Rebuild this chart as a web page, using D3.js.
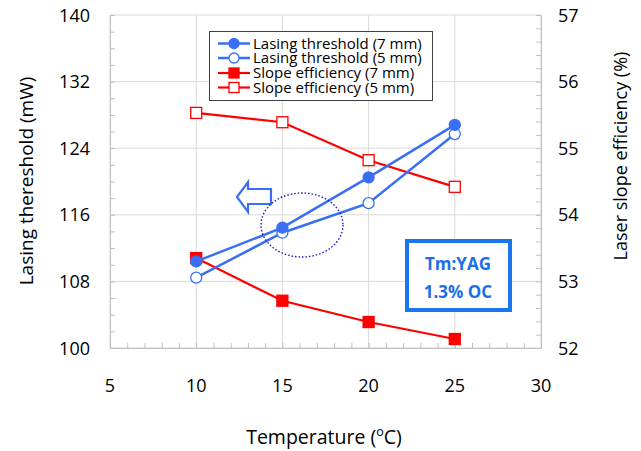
<!DOCTYPE html>
<html><head><meta charset="utf-8">
<script src="https://cdn.jsdelivr.net/npm/d3@7"></script>
<style>body{margin:0;background:#fff}svg{display:block}text{font-family:"Open Sans",sans-serif;fill:#000}</style>
</head><body><svg id="c" width="641" height="451"></svg>
<script>
const temps = [10, 15, 20, 25];
const thr7 = [110.4, 114.45, 120.5, 126.8];
const thr5 = [108.45, 113.85, 117.4, 125.7];
const eff7 = [53.35, 52.71, 52.39, 52.135];
const eff5 = [55.53, 55.39, 54.82, 54.42];
const xTicks = [5, 10, 15, 20, 25, 30];
const yLeftTicks = [100, 108, 116, 124, 132, 140];
const yRightTicks = [52, 53, 54, 55, 56, 57];
const legendLabels = ["Lasing threshold (7 mm)", "Lasing threshold (5 mm)", "Slope efficiency (7 mm)", "Slope efficiency (5 mm)"];

const svg = d3.select("#c");
const L = 110, R = 541, T = 15, B = 348;
const x = d3.scaleLinear().domain([5, 30]).range([L, R]);
const yL = d3.scaleLinear().domain([100, 140]).range([B, T]);
const yR = d3.scaleLinear().domain([52, 57]).range([B, T]);
const BLUE = "#3a6ff5", RED = "#ff0000", GRID = "#d9d9d9", AX = "#bfbfbf";

// gridlines
svg.append("g").selectAll("line").data(yLeftTicks).join("line")
  .attr("x1", L).attr("x2", R).attr("y1", d => yL(d)).attr("y2", d => yL(d))
  .attr("stroke", GRID).attr("stroke-width", 1);
svg.append("g").selectAll("line").data(xTicks).join("line")
  .attr("x1", d => x(d)).attr("x2", d => x(d)).attr("y1", T).attr("y2", B)
  .attr("stroke", GRID).attr("stroke-width", 1);

// axes
const gx = svg.append("g").attr("transform", `translate(0,${B})`)
  .call(d3.axisBottom(x).tickValues(d3.range(5, 30.01, 1)).tickSize(-5).tickFormat(""));
const gyl = svg.append("g").attr("transform", `translate(${L},0)`)
  .call(d3.axisLeft(yL).tickValues(d3.range(100, 140.01, 2)).tickSize(-5).tickFormat(""));
const gyr = svg.append("g").attr("transform", `translate(${R},0)`)
  .call(d3.axisRight(yR).tickValues(d3.range(52, 57.01, 0.2)).tickSize(-5).tickFormat(""));
[gx, gyl, gyr].forEach(g => { g.selectAll("path,line").attr("stroke", AX); g.select(".domain").attr("stroke", AX); });

// tick labels
svg.append("g").selectAll("text").data(xTicks).join("text")
  .attr("x", d => x(d)).attr("y", 392).attr("text-anchor", "middle")
  .attr("font-size", 18).text(d => d);
svg.append("g").selectAll("text").data(yLeftTicks).join("text")
  .attr("x", 90).attr("y", d => yL(d) + 6.5).attr("text-anchor", "end")
  .attr("font-size", 18).text(d => d);
svg.append("g").selectAll("text").data(yRightTicks).join("text")
  .attr("x", 558).attr("y", d => yR(d) + 6.5).attr("text-anchor", "start")
  .attr("font-size", 18).text(d => d);

// axis titles
svg.append("text").attr("transform", "translate(33,181) rotate(-90)").attr("text-anchor", "middle")
  .attr("font-size", 19).text("Lasing thereshold (mW)");
svg.append("text").attr("transform", "translate(627,156) rotate(-90)").attr("text-anchor", "middle")
  .attr("font-size", 18).text("Laser slope efficiency (%)");
const xt = svg.append("text").attr("x", 324).attr("y", 444).attr("text-anchor", "middle").attr("font-size", 19.5);
xt.append("tspan").text("Temperature (");
xt.append("tspan").attr("font-size", 12.5).attr("dy", -8).text("o");
xt.append("tspan").attr("dy", 8).text("C)");

// series
const series = [
  {v: thr7, y: yL, color: BLUE, w: 2.5, shape: "circle", fill: BLUE},
  {v: thr5, y: yL, color: BLUE, w: 2.5, shape: "circle", fill: "#fff"},
  {v: eff7, y: yR, color: RED, w: 2.2, shape: "square", fill: RED},
  {v: eff5, y: yR, color: RED, w: 2.2, shape: "square", fill: "#fff"}
];
const drawOrder = [3, 2, 1, 0];
drawOrder.forEach(i => {
  const s = series[i];
  const pts = temps.map((t, k) => [x(t), s.y(s.v[k])]);
  svg.append("path").attr("d", d3.line()(pts)).attr("fill", "none")
    .attr("stroke", s.color).attr("stroke-width", s.w);
  const g = svg.append("g");
  pts.forEach(p => {
    if (s.shape === "circle") g.append("circle").attr("cx", p[0]).attr("cy", p[1]).attr("r", 5.5)
      .attr("fill", s.fill).attr("stroke", s.color).attr("stroke-width", 1.3);
    else g.append("rect").attr("x", p[0] - 5.5).attr("y", p[1] - 5.5).attr("width", 11).attr("height", 11)
      .attr("fill", s.fill).attr("stroke", s.color).attr("stroke-width", 1.3);
  });
});

// legend
const lg = svg.append("g");
lg.append("rect").attr("x", 209.5).attr("y", 31.5).attr("width", 223).attr("height", 69)
  .attr("fill", "#fff").attr("stroke", "#404040").attr("stroke-width", 1);
const ly = [43.5, 58, 73, 87.5];
legendLabels.forEach((lab, i) => {
  const s = series[i], yy = ly[i];
  lg.append("line").attr("x1", 218).attr("x2", 250).attr("y1", yy).attr("y2", yy)
    .attr("stroke", s.color).attr("stroke-width", s.w);
  if (s.shape === "circle") lg.append("circle").attr("cx", 234).attr("cy", yy).attr("r", 5)
    .attr("fill", s.fill).attr("stroke", s.color).attr("stroke-width", 1.3);
  else lg.append("rect").attr("x", 229).attr("y", yy - 5).attr("width", 10).attr("height", 10)
    .attr("fill", s.fill).attr("stroke", s.color).attr("stroke-width", 1.3);
  lg.append("text").attr("x", 253).attr("y", yy + 5).attr("font-size", 15).text(lab);
});

// hollow arrow pointing left
svg.append("path")
  .attr("d", "M237,197 L248,182 L248,189 L271,189 L271,204 L248,204 L248,212 Z")
  .attr("fill", "#fff").attr("stroke", BLUE).attr("stroke-width", 2.2).attr("stroke-linejoin", "miter");

// dotted ellipse
svg.append("ellipse").attr("cx", 302).attr("cy", 225).attr("rx", 41).attr("ry", 32)
  .attr("fill", "none").attr("stroke", "#1a1acc").attr("stroke-width", 1.4).attr("stroke-dasharray", "1.5,2");

// Tm:YAG box
svg.append("rect").attr("x", 407).attr("y", 241).attr("width", 103).attr("height", 69)
  .attr("fill", "#fff").attr("stroke", "#1a75f0").attr("stroke-width", 4);
svg.append("text").attr("x", 458).attr("y", 270).attr("text-anchor", "middle").attr("font-size", 17)
  .attr("font-weight", "bold").style("fill", "#1a6fe8").text("Tm:YAG");
svg.append("text").attr("x", 458).attr("y", 298).attr("text-anchor", "middle").attr("font-size", 17)
  .attr("font-weight", "bold").style("fill", "#1a6fe8").text("1.3% OC");
</script></body></html>
